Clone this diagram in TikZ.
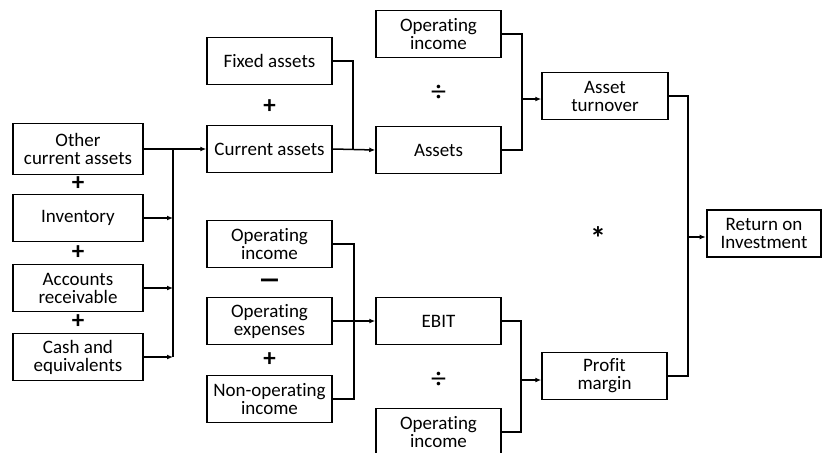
\documentclass[tikz,border=0pt]{standalone}
\usepackage{fontspec}
\setmainfont[Ligatures=NoCommon]{Carlito}
\usepackage{tikz}
\usetikzlibrary{calc}
\usetikzlibrary{arrows.meta}
\usetikzlibrary{positioning}
\tikzset{item/.style={rectangle,draw=black,line width=1.5pt,minimum width=125pt,minimum height=47pt,inner sep=0pt,align=center,font=\fontsize{19}{18}\selectfont}}
\tikzset{wide/.style={item,minimum width=130pt}}
\tikzset{result/.style={item,line width=2.6pt,minimum width=114pt}}
\tikzset{op/.style={font=\fontsize{25}{25}\selectfont\bfseries}}
\tikzset{wire/.style={line width=1.5pt}}

\begin{document}
\begin{tikzpicture}[x=1pt,y=-1pt,>={Latex[length=6pt,width=5pt]}]
\useasboundingbox (0,0) rectangle (823,453);

% current assets parts
\node[wide, minimum height=51pt] (oca) at (78,149) {Other\\current assets};
\node[wide] (inv) at (78,218) {Inventory};
\node[wide] (ar) at (78,288) {Accounts\\receivable};
\node[wide] (cash) at (78,357) {Cash and\\equivalents};
\node[op] (p1) at (78,184) {+};
\node[op] (p2) at (78,253) {+};
\node[op] (p3) at (78,322) {+};

% second column
\node[item] (fixed) at (269.5,61) {Fixed assets};
\node[item] (curr) at (269.5,149) {Current assets};
\node[op] (p4) at (269.5,107) {+};
\node[item] (opinc1) at (269.5,244) {Operating\\income};
\node[item] (opexp) at (269.5,321) {Operating\\expenses};
\node[item] (nonop) at (269.5,399) {Non-operating\\income};
\node[op, font=\fontsize{32}{32}\selectfont\bfseries, xscale=1.5, transform shape] (m1) at (269.5,284) {–};
\node[op] (p5) at (269.5,360) {+};

% third column
\node[item] (opinc2) at (438.5,34) {Operating\\income};
\node[item] (assets) at (438.5,150) {Assets};
\node[op, font=\fontsize{30}{30}\selectfont] (d1) at (438.5,93) {÷};
\node[item] (ebit) at (438.5,321) {EBIT};
\node[item] (opinc3) at (438.5,432) {Operating\\income};
\node[op, font=\fontsize{30}{30}\selectfont] (d2) at (438.5,380) {÷};

% ratios
\node[item, minimum width=126pt] (turn) at (605,96) {Asset\\turnover};
\node[item] (margin) at (604.5,376) {Profit\\margin};
\node[op, font=\fontsize{32}{32}\selectfont\bfseries] (star) at (598,238) {*};
\node[result] (roi) at (764,233.5) {Return on\\Investment};

% junctions
\coordinate (b1) at (173,149);
\coordinate (j1) at (353,149);
\coordinate (j2) at (522,99);
\coordinate (j3) at (354,321);
\coordinate (j4) at (521,380);
\coordinate (j5) at (688,237);

\begin{scope}[wire]
 \draw[->] (oca.east) -- (curr.west);
 \draw (b1) -- (cash.east -| b1);
 \draw[->] (inv.east) -- (inv.east -| b1);
 \draw[->] (ar.east) -- (ar.east -| b1);
 \draw[->] (cash.east) -- (cash.east -| b1);

 \draw (fixed.east) -| (j1);
 \draw[->] (curr.east) -- (assets.west);
 \draw (opinc1.east) -| (j3) |- (nonop.east);
 \draw[->] (opexp.east) -- (ebit.west);

 \draw (opinc2.east) -| (j2) |- (assets.east);
 \draw[->] (j2) -- (j2 -| turn.west);
 \draw (ebit.east) -| (j4) |- (opinc3.east);
 \draw[->] (j4) -- (j4 -| margin.west);

 \draw (turn.east) -| (j5) |- (margin.east);
 \draw[->] (j5) -- (j5 -| roi.west);
\end{scope}
\end{tikzpicture}
\end{document}
